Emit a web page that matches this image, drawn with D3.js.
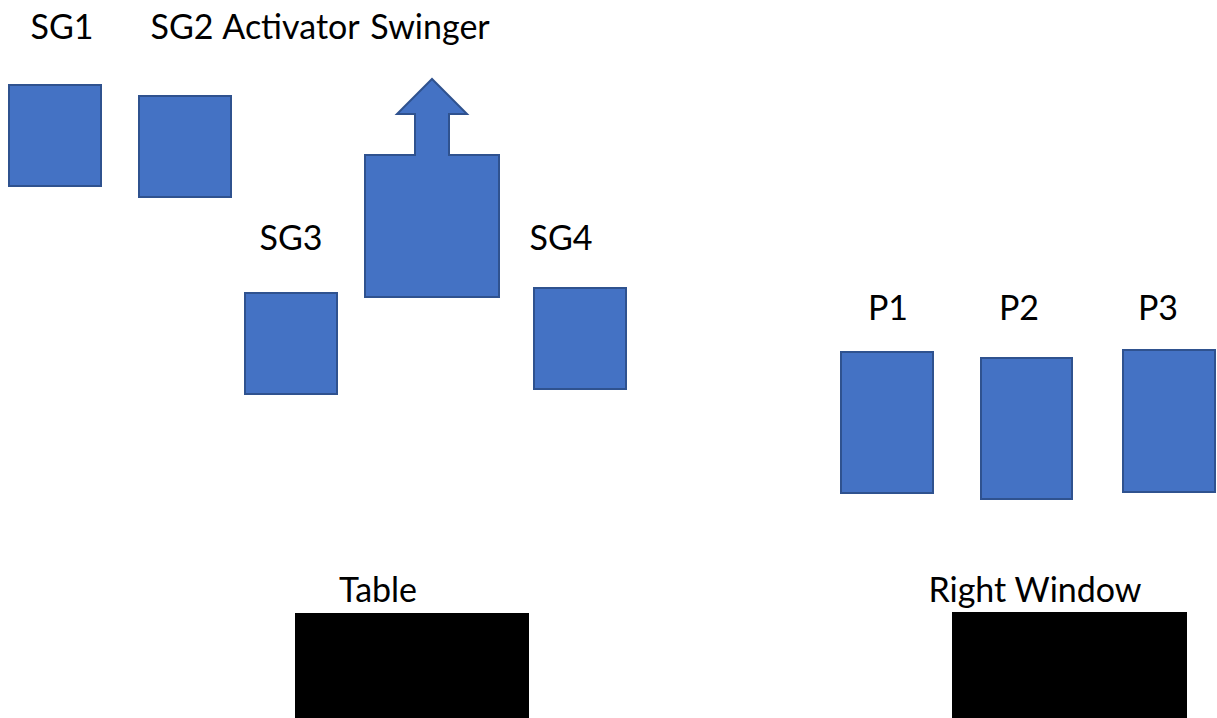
<!DOCTYPE html>
<html>
<head>
<meta charset="utf-8">
<script src="https://cdn.jsdelivr.net/npm/d3@7"></script>
<style>
  body { margin: 0; background: white; }
  svg { display: block; }
</style>
</head>
<body>
<script>
const width = 1217
const height = 718

// seats (room units: left, top, right, bottom)
const seatNames = ["SG1", "SG2", "SG3", "SG4", "P1", "P2", "P3"]
const seatLeft = [9, 139, 245, 534, 841, 981, 1123]
const seatTop = [85, 96, 293, 288, 352, 358, 350]
const seatRight = [101, 231, 337, 626, 933, 1072, 1215]
const seatBottom = [186, 197, 394, 389, 493, 499, 492]

// swinger body + arrow pointing forward
const swingerBody = [365, 155, 499, 297]
const swingerArrow = {shaftLeft: 415, shaftRight: 449, headLeft: 397, headRight: 467, headBase: 114, tip: 79}

// furniture (black blocks)
const furnitureNames = ["Table", "Right Window"]
const furnitureLeft = [295, 952]
const furnitureTop = [613, 612]
const furnitureRight = [529, 1187]

// labels
const labelText = ["SG1", "SG2", "Activator", "Swinger", "SG3", "SG4", "P1", "P2", "P3", "Table", "Right Window"]
const labelX = [62, 182, 291, 430, 291, 561, 888, 1019, 1158, 378, 1035]
const labelY = [39, 39, 39, 39, 250, 250, 320, 320, 320, 602, 602]

const x = d3.scaleLinear().domain([0, 1217]).range([0, width])
const y = d3.scaleLinear().domain([0, 718]).range([0, height])

const svg = d3.select("body")
    .append("svg")
    .attr("width", width)
    .attr("height", height)
    .style("background-color", "white")

const blue = "#4472C4"
const blueEdge = "#2F528F"

svg.selectAll(".seat")
    .data(seatNames)
    .enter()
    .append("rect")
    .attr("class", "seat")
    .attr("x", (d, i) => x(seatLeft[i]))
    .attr("y", (d, i) => y(seatTop[i]))
    .attr("width", (d, i) => x(seatRight[i]) - x(seatLeft[i]))
    .attr("height", (d, i) => y(seatBottom[i]) - y(seatTop[i]))
    .attr("fill", blue)
    .attr("stroke", blueEdge)
    .attr("stroke-width", 2)

// swinger outline
const [bl, bt, br, bb] = swingerBody
const a = swingerArrow
const pts = [
    [bl, bt], [a.shaftLeft, bt], [a.shaftLeft, a.headBase], [a.headLeft, a.headBase],
    [(a.headLeft + a.headRight) / 2, a.tip],
    [a.headRight, a.headBase], [a.shaftRight, a.headBase], [a.shaftRight, bt],
    [br, bt], [br, bb], [bl, bb]
]
svg.append("path")
    .attr("d", d3.line().x(p => x(p[0])).y(p => y(p[1]))(pts) + "Z")
    .attr("fill", blue)
    .attr("stroke", blueEdge)
    .attr("stroke-width", 2)

svg.selectAll(".furniture")
    .data(furnitureNames)
    .enter()
    .append("rect")
    .attr("class", "furniture")
    .attr("x", (d, i) => x(furnitureLeft[i]))
    .attr("y", (d, i) => y(furnitureTop[i]))
    .attr("width", (d, i) => x(furnitureRight[i]) - x(furnitureLeft[i]))
    .attr("height", (d, i) => height - y(furnitureTop[i]))
    .attr("fill", "black")

svg.selectAll(".label")
    .data(labelText)
    .enter()
    .append("text")
    .attr("class", "label")
    .attr("x", (d, i) => x(labelX[i]))
    .attr("y", (d, i) => y(labelY[i]))
    .attr("text-anchor", "middle")
    .style("font-family", "Lato, 'Open Sans', sans-serif")
    .style("font-size", "34px")
    .style("fill", "black")
    .text(d => d)
</script>
</body>
</html>
